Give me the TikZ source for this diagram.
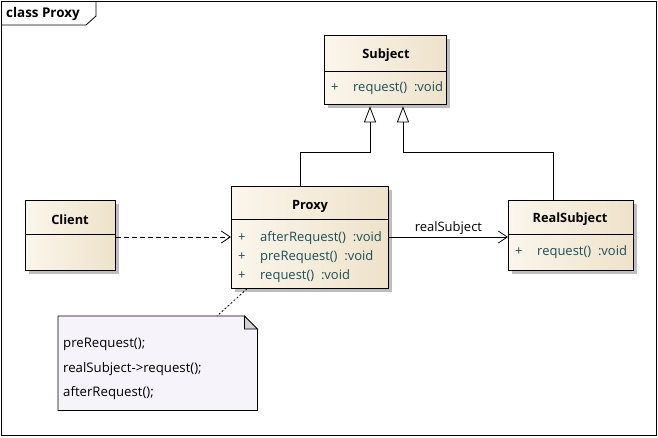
\documentclass[tikz,border=0pt]{standalone}
\usepackage{fontspec}
\setmainfont{Open Sans}
\usetikzlibrary{arrows.meta,shadows,calc}
\definecolor{memb}{RGB}{28,78,88}
\definecolor{boxl}{RGB}{251,246,236}
\definecolor{boxr}{RGB}{238,226,202}
\definecolor{notefill}{RGB}{246,244,250}
\definecolor{shad}{RGB}{190,190,190}
\tikzset{
  classbox/.style={draw=black, line width=0.8pt, anchor=north west, inner sep=0pt,
    left color=boxl, right color=boxr,
    general shadow={shadow xshift=4pt, shadow yshift=-4pt, fill=shad}},
  ctitle/.style={font=\fontsize{12.8}{15}\selectfont\bfseries, text=black},
  member/.style={font=\fontsize{13}{15}\selectfont, text=memb, anchor=west, inner sep=0pt},
  notetext/.style={font=\fontsize{13.2}{15}\selectfont, text=black, anchor=west, inner sep=0pt},
  sep/.style={line width=0.8pt},
  gen/.style={line width=0.8pt, -{Triangle[open, length=16pt, width=12pt, fill=white]}},
  dep/.style={line width=0.8pt, dashed, dash pattern=on 5pt off 3pt, -{Straight Barb[length=9pt, width=12pt]}},
  assoc/.style={line width=0.8pt, -{Straight Barb[length=9pt, width=12pt]}},
}
\begin{document}
\begin{tikzpicture}[x=1pt,y=-1pt]
\useasboundingbox (0,0) rectangle (658,437);
\fill[white] (0,0) rectangle (658,437);
% frame
\draw[line width=0.8pt] (1.5,1.5) rectangle (656.5,435.5);
\draw[line width=0.8pt] (1.5,25) -- (86,25) -- (96,16) -- (96,1.5);
\node[font=\fontsize{13.4}{15}\selectfont\bfseries, anchor=west, inner sep=0pt] (frametitle) at (6,14) {class Proxy};

% Subject
\node[classbox, minimum width=122pt, minimum height=69pt] (subject) at (324,35) {};
\draw[sep] (324,71) -- (446,71);
\node[ctitle] (subjectname) at (386,55.5) {Subject};
\node[member] (subjectplus) at (331,88) {+};
\node[member] (subjectreq) at (353,88) {request()~~:void};

% Proxy
\node[classbox, minimum width=157pt, minimum height=102pt] (proxy) at (231,186) {};
\draw[sep] (231,219) -- (388,219);
\node[ctitle] (proxyname) at (310,206.5) {Proxy};
\node[member] (pp1) at (238,238) {+};
\node[member] (pp2) at (238,257) {+};
\node[member] (pp3) at (238,276) {+};
\node[member] (pm1) at (260,238) {afterRequest()~~:void};
\node[member] (pm2) at (260,257) {preRequest()~~:void};
\node[member] (pm3) at (260,276) {request()~~:void};

% Client
\node[classbox, minimum width=90pt, minimum height=70pt] (client) at (25,200) {};
\draw[sep] (25,234) -- (115,234);
\node[ctitle] (clientname) at (70,219.5) {Client};

% RealSubject
\node[classbox, minimum width=125pt, minimum height=70pt] (real) at (508,200) {};
\draw[sep] (508,234) -- (633,234);
\node[ctitle] (realname) at (570,219.5) {RealSubject};
\node[member] (realplus) at (515,252) {+};
\node[member] (realreq) at (537,252) {request()~~:void};

% Note
\node[anchor=north west, minimum width=199pt, minimum height=94pt, inner sep=0pt] (note) at (58,316) {};
\draw[line width=0.8pt, fill=notefill]
  (note.north west) -- ($(note.north east)+(-13,0)$) -- ($(note.north east)+(0,13)$) -- (note.south east) -- (note.south west) -- cycle;
\draw[line width=0.8pt, fill=shad!70]
  ($(note.north east)+(-13,0)$) -- ($(note.north east)+(-13,13)$) -- ($(note.north east)+(0,13)$) -- cycle;
\node[notetext] (n1) at (63,344.5) {preRequest();};
\node[notetext] (n2) at (63,369) {realSubject->request();};
\node[notetext] (n3) at (63,393.5) {afterRequest();};

% connectors
\coordinate (gx1) at (300,0);
\coordinate (gx2) at (370,0);
\coordinate (gx3) at (553,0);
\coordinate (gx4) at (403,0);
\coordinate (gy) at (0,152);
\coordinate (arrowy) at (0,237);
\coordinate (dx1) at (247,0);
\coordinate (dx2) at (217,0);

\draw[gen] (proxy.north -| gx1) -- (gx1 |- gy) -| ($(subject.south -| gx2)+(0,1.5)$);
\draw[gen] (real.north -| gx3) -- (gx3 |- gy) -| ($(subject.south -| gx4)+(0,1.5)$);
\draw[dep] (client.east |- arrowy) -- (proxy.west |- arrowy);
\draw[assoc] (proxy.east |- arrowy) -- node[above, font=\fontsize{13}{15}\selectfont, inner sep=2pt] (assoclabel) {realSubject} (real.west |- arrowy);
\draw[line width=0.8pt, dash pattern=on 2pt off 2pt] (proxy.south -| dx1) -- (note.north -| dx2);
\end{tikzpicture}
\end{document}
